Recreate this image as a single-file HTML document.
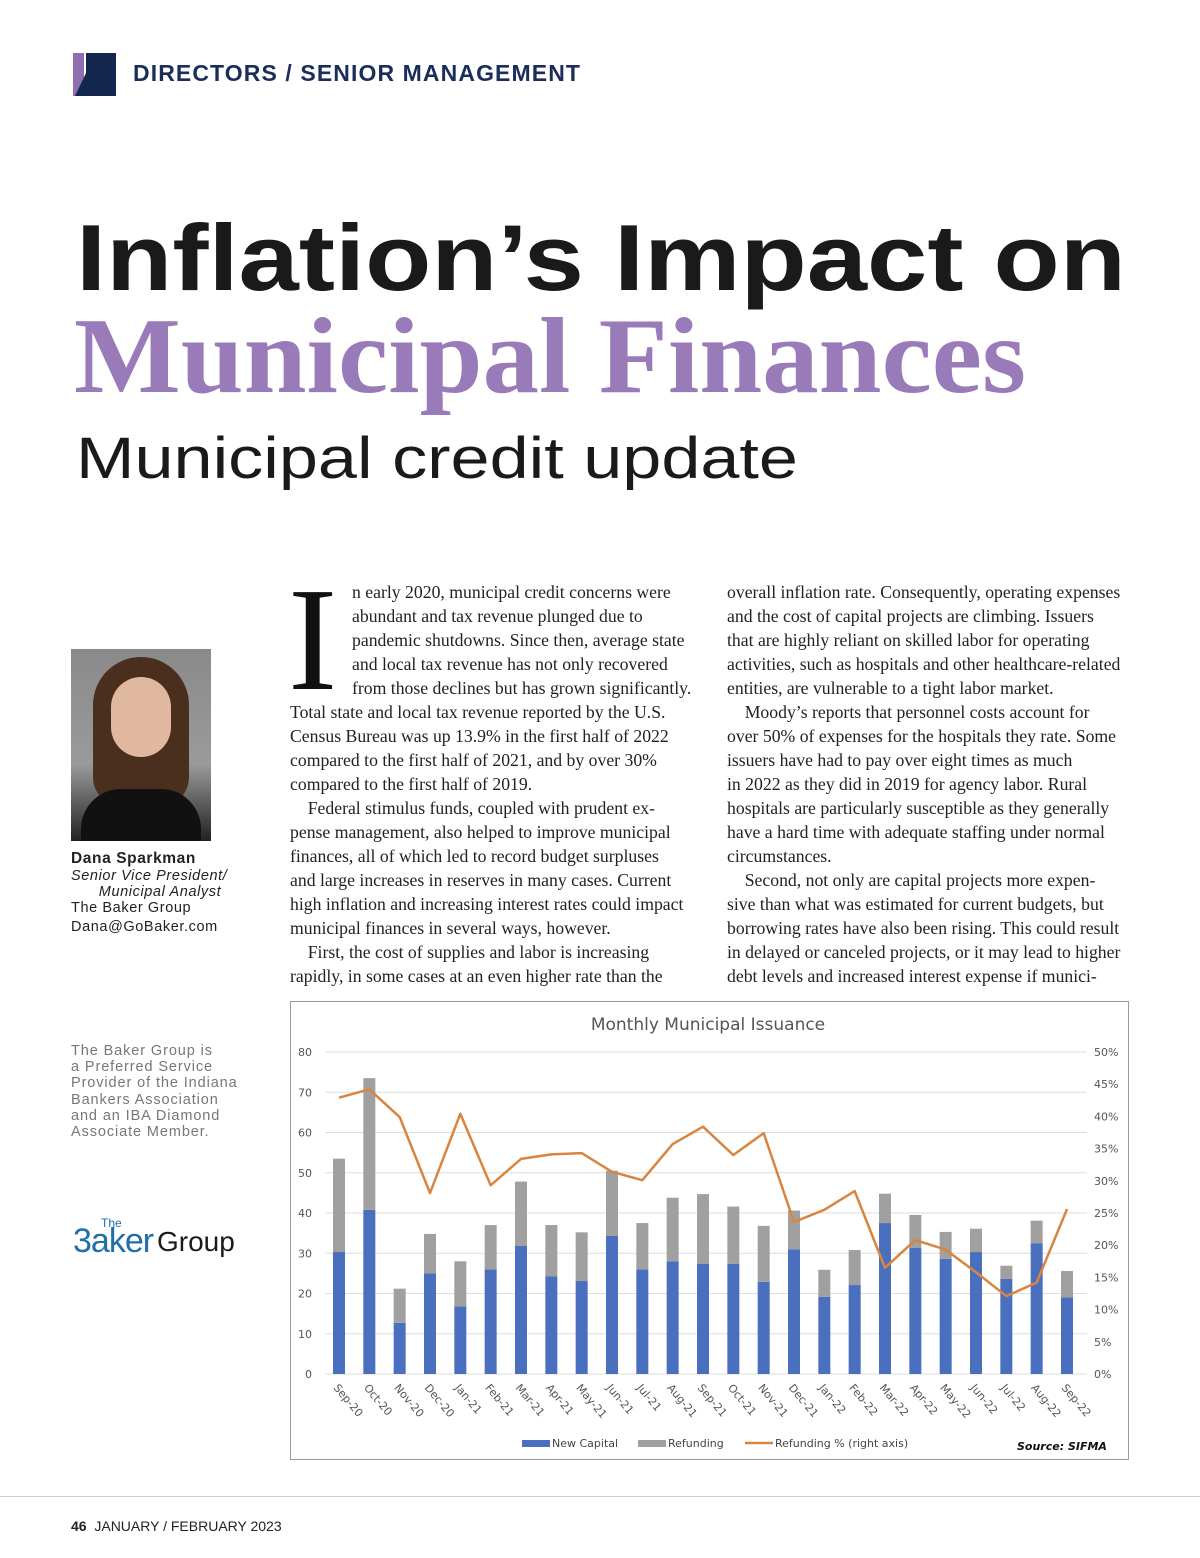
<!DOCTYPE html>
<html><head><meta charset="utf-8">
<style>
*{margin:0;padding:0;box-sizing:border-box}
body{width:1200px;height:1558px;background:#fff;position:relative;overflow:hidden;font-family:"Liberation Sans",sans-serif;color:#1a1a1a}
.abs{position:absolute;white-space:nowrap}
.body{font-family:"Liberation Serif",serif;font-size:17.7px;line-height:24px;color:#222}
.side{font-size:14.5px;line-height:16px;color:#222;letter-spacing:0.6px}
.gray{color:#777;font-size:14.5px;line-height:16.2px;letter-spacing:0.9px}
</style></head><body>
<div class="abs" style="left:73px;top:53px;width:43px;height:43px">
<svg width="43" height="43"><polygon points="0,0 11,0 11,43 0,43" fill="#8f6fb0"/><polygon points="13,0 43,0 43,43 2,43 13,20" fill="#14284f"/></svg></div>
<div class="abs" style="left:133px;top:60px;font-size:23px;font-weight:bold;color:#1b2d5a;letter-spacing:1.1px">DIRECTORS / SENIOR MANAGEMENT</div>

<svg class="abs" style="left:0;top:200px" width="1200" height="300">
<text x="76" y="90" font-family="Liberation Sans" font-weight="bold" font-size="94" fill="#1a1a1a" textLength="1050" lengthAdjust="spacingAndGlyphs">Inflation’s Impact on</text>
<text x="74" y="192" font-family="Liberation Serif" font-weight="bold" font-size="108" fill="#9a7bb9" textLength="952" lengthAdjust="spacingAndGlyphs">Municipal Finances</text>
<text x="76" y="278" font-family="Liberation Sans" font-size="58" fill="#1a1a1a" textLength="722" lengthAdjust="spacingAndGlyphs">Municipal credit update</text>
</svg>

<div class="abs" style="left:71px;top:649px;width:140px;height:192px;background:linear-gradient(180deg,#8a8a8a 0%,#9a9a9a 60%,#222 100%)">
<div style="position:absolute;left:22px;top:8px;width:96px;height:150px;border-radius:48px 48px 30px 30px;background:#4a2e1e"></div>
<div style="position:absolute;left:40px;top:28px;width:60px;height:80px;border-radius:30px;background:#e0b8a0"></div>
<div style="position:absolute;left:10px;top:140px;width:120px;height:52px;border-radius:40px 40px 0 0;background:#111"></div>
</div>
<div class="abs side" style="left:71px;top:851px;font-weight:bold;font-size:15.5px">Dana Sparkman</div>
<div class="abs side" style="left:71px;top:868px;font-style:italic">Senior Vice President/<br>&nbsp;&nbsp;&nbsp;&nbsp;&nbsp;&nbsp;Municipal Analyst</div>
<div class="abs side" style="left:71px;top:900px">The Baker Group</div>
<div class="abs side" style="left:71px;top:919px">Dana@GoBaker.com</div>
<div class="abs gray" style="left:71px;top:1043px">The Baker Group is<br>a Preferred Service<br>Provider of the Indiana<br>Bankers Association<br>and an IBA Diamond<br>Associate Member.</div>
<div class="abs" style="left:73px;top:1216px;width:190px;height:46px">
<span style="position:absolute;left:28px;top:0;font-size:12px;color:#1f6fa8">The</span>
<span style="position:absolute;left:0;top:6px;font-size:34px;color:#1f6fa8;letter-spacing:-1px">3aker</span><span style="position:absolute;left:84px;top:10px;font-size:28px;color:#1a1a1a">Group</span></div>

<div class="abs" style="left:288px;top:570px;font-family:'Liberation Serif',serif;font-size:148px;line-height:140px;color:#111">I</div>
<div class="abs body" style="left:290px;top:580px">
<div style="padding-left:62px">n early 2020, municipal credit concerns were</div>
<div style="padding-left:62px">abundant and tax revenue plunged due to</div>
<div style="padding-left:62px">pandemic shutdowns. Since then, average state</div>
<div style="padding-left:62px">and local tax revenue has not only recovered</div>
<div style="padding-left:62px">from those declines but has grown significantly.</div>
<div>Total state and local tax revenue reported by the U.S.</div>
<div>Census Bureau was up 13.9% in the first half of 2022</div>
<div>compared to the first half of 2021, and by over 30%</div>
<div>compared to the first half of 2019.</div>
<div>&nbsp;&nbsp;&nbsp;&nbsp;Federal stimulus funds, coupled with prudent ex-</div>
<div>pense management, also helped to improve municipal</div>
<div>finances, all of which led to record budget surpluses</div>
<div>and large increases in reserves in many cases. Current</div>
<div>high inflation and increasing interest rates could impact</div>
<div>municipal finances in several ways, however.</div>
<div>&nbsp;&nbsp;&nbsp;&nbsp;First, the cost of supplies and labor is increasing</div>
<div>rapidly, in some cases at an even higher rate than the</div>
</div>
<div class="abs body" style="left:727px;top:580px">
<div>overall inflation rate. Consequently, operating expenses</div>
<div>and the cost of capital projects are climbing. Issuers</div>
<div>that are highly reliant on skilled labor for operating</div>
<div>activities, such as hospitals and other healthcare-related</div>
<div>entities, are vulnerable to a tight labor market.</div>
<div>&nbsp;&nbsp;&nbsp;&nbsp;Moody’s reports that personnel costs account for</div>
<div>over 50% of expenses for the hospitals they rate. Some</div>
<div>issuers have had to pay over eight times as much</div>
<div>in 2022 as they did in 2019 for agency labor. Rural</div>
<div>hospitals are particularly susceptible as they generally</div>
<div>have a hard time with adequate staffing under normal</div>
<div>circumstances.</div>
<div>&nbsp;&nbsp;&nbsp;&nbsp;Second, not only are capital projects more expen-</div>
<div>sive than what was estimated for current budgets, but</div>
<div>borrowing rates have also been rising. This could result</div>
<div>in delayed or canceled projects, or it may lead to higher</div>
<div>debt levels and increased interest expense if munici-</div>
</div>

<svg class="abs" id="chart" style="left:290px;top:1001px" width="839" height="459"></svg>

<div class="abs" style="left:0;top:1496px;width:1200px;height:1px;background:#c9d3dc"></div>
<div class="abs" style="left:71px;top:1518px;font-size:14px;color:#222"><b>46</b>&nbsp;&nbsp;JANUARY / FEBRUARY 2023</div>

<script>
const months=["Sep-20","Oct-20","Nov-20","Dec-20","Jan-21","Feb-21","Mar-21","Apr-21","May-21","Jun-21","Jul-21","Aug-21","Sep-21","Oct-21","Nov-21","Dec-21","Jan-22","Feb-22","Mar-22","Apr-22","May-22","Jun-22","Jul-22","Aug-22","Sep-22"];
const newCapital=[30.3,40.8,12.7,25,16.8,26,31.8,24.3,23.1,34.3,26,28,27.4,27.4,22.9,31,19.2,22.1,37.5,31.3,28.6,30.3,23.6,32.5,19];
const refunding=[23.2,32.7,8.5,9.8,11.2,11,16,12.7,12.1,16.2,11.5,15.8,17.3,14.2,13.9,9.6,6.7,8.7,7.3,8.2,6.7,5.8,3.3,5.6,6.6];
const refundPct=[42.9,44.2,39.9,28.1,40.4,29.3,33.4,34.1,34.3,31.4,30.1,35.7,38.4,34,37.4,23.6,25.5,28.4,16.5,20.8,19.3,15.8,12.1,14.2,25.6];
const leftTicks=[0,10,20,30,40,50,60,70,80];
const rightTicks=["0%","5%","10%","15%","20%","25%","30%","35%","40%","45%","50%"];
const NS="http://www.w3.org/2000/svg";
const svg=document.getElementById('chart');
function mk(t,a,p){const e=document.createElementNS(NS,t);for(const k in a)e.setAttribute(k,a[k]);(p||svg).appendChild(e);return e;}
const y0=373,y1=51,x0=49,dx=(777-49)/24,L=35,R=797;
const yL=v=>y0-(v/80)*(y0-y1);
const yR=v=>y0-(v/50)*(y0-y1);
const xC=i=>x0+i*dx;
const frame=mk('rect',{x:0.5,y:0.5,width:838,height:458,fill:'#fff',stroke:'#9a9a9a'});


const title=mk('text',{x:418,y:29,'text-anchor':'middle','font-size':17,fill:'#555','font-family':'DejaVu Sans, sans-serif'});
title.textContent='Monthly Municipal Issuance';


leftTicks.forEach(v=>{
  const g=mk('line',{x1:L,x2:R,y1:yL(v),y2:yL(v),stroke:'#dedede','stroke-width':1});
  
  
  const t=mk('text',{x:22,y:yL(v)+4,'text-anchor':'end','font-size':11,fill:'#555','font-family':'DejaVu Sans, sans-serif'});
  t.textContent=v;
  
  
});
rightTicks.forEach((s,i)=>{
  const t=mk('text',{x:804,y:yR(i*5)+4,'font-size':11,fill:'#555','font-family':'DejaVu Sans, sans-serif'});
  t.textContent=s;
  
  
});
months.forEach((m,i)=>{
  const x=xC(i),w=12;
  const b=mk('rect',{x:x-w/2,y:yL(newCapital[i]),width:w,height:y0-yL(newCapital[i]),fill:'#4a6fbf'});
  
  
  const r=mk('rect',{x:x-w/2,y:yL(newCapital[i]+refunding[i]),width:w,height:yL(newCapital[i])-yL(newCapital[i]+refunding[i]),fill:'#a0a0a0'});
  
  
  const t=mk('text',{transform:`translate(${x-6},${y0+14}) rotate(50)`,'font-size':11,fill:'#555','font-family':'DejaVu Sans, sans-serif'});
  t.textContent=m;
  
  
});
const ln=mk('polyline',{points:refundPct.map((v,i)=>xC(i)+','+yR(v)).join(' '),fill:'none',stroke:'#d9843f','stroke-width':2.5,'stroke-linejoin':'round'});


function leg(x,color,label,isLine){
  const s=isLine?mk('line',{x1:x,x2:x+28,y1:442,y2:442,stroke:color,'stroke-width':2.5}):mk('rect',{x:x,y:439,width:28,height:7,fill:color});
  
  
  const t=mk('text',{x:x+30,y:446,'font-size':11,fill:'#444','font-family':'DejaVu Sans, sans-serif'});
  t.textContent=label;
  
  
}
leg(232,'#4a6fbf','New Capital',false);
leg(348,'#a0a0a0','Refunding',false);
leg(455,'#d9843f','Refunding % (right axis)',true);
const src=mk('text',{x:727,y:449,'font-size':11,'font-weight':'bold','font-style':'italic',fill:'#111','font-family':'DejaVu Sans, sans-serif'});
src.textContent='Source: SIFMA';


</script>
</body></html>
